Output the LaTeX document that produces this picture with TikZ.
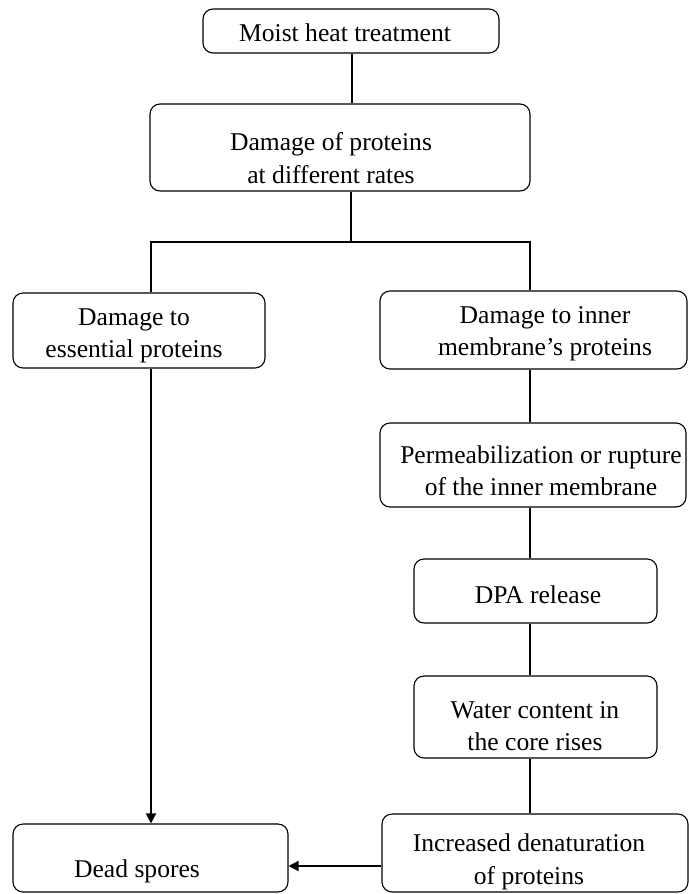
\documentclass[tikz,border=0pt]{standalone}
\usepackage{fontspec}
\setmainfont{Liberation Serif}
\usetikzlibrary{arrows.meta}
\begin{document}
\begin{tikzpicture}[x=0.5pt,y=-0.5pt,
  box/.style={draw, rounded corners=5pt, line width=0.55pt, inner sep=0pt},
  txt/.style={align=center, inner sep=0pt, font=\fontsize{12.8}{16.2}\selectfont},
  conn/.style={line width=0.8pt},
  arr/.style={line width=0.8pt, -{Triangle[length=5pt,width=5pt]}}]
\useasboundingbox (0,0) rectangle (689,894);
% boxes
\node[box, minimum width=148pt, minimum height=22pt] (n1) at (351,31) {};
\node[box, minimum width=190pt, minimum height=43.5pt] (n2) at (340,147.5) {};
\node[box, minimum width=126pt, minimum height=37.5pt] (n3) at (139,330.5) {};
\node[box, minimum width=153.5pt, minimum height=39pt] (n4) at (533.5,330) {};
\node[box, minimum width=153pt, minimum height=42pt] (n5) at (533,465) {};
\node[box, minimum width=121.5pt, minimum height=32pt] (n6) at (535.5,591) {};
\node[box, minimum width=121.5pt, minimum height=41pt] (n7) at (535.5,717) {};
\node[box, minimum width=153pt, minimum height=39pt] (n8) at (535,853) {};
\node[box, minimum width=137.5pt, minimum height=34pt] (n9) at (150.5,858) {};
% texts
\node[txt] (t1) at (345,33) {Moist heat treatment};
\node[txt] (t2) at (331,158) {Damage of proteins\\at different rates};
\node[txt] (t3) at (134,336) {Damage to\\essential proteins};
\node[txt] (t4) at (545,334) {Damage to inner\\membrane’s proteins};
\node[txt] (t5) at (541,471) {Permeabilization or rupture\\of the inner membrane};
\node[txt] (t6) at (538,595) {DPA release};
\node[txt] (t7) at (535,726) {Water content in\\the core rises};
\node[txt] (t8) at (529,862) {Increased denaturation\\of proteins};
\node[txt] (t9) at (137,871) {Dead spores};
% junction coordinates
\coordinate (jm) at (351,242);
\coordinate (jl) at (151,242);
\coordinate (jr) at (530,242);
\coordinate (top) at (352,0);
\coordinate (ya) at (0,866);
% connectors
\draw[conn] (n1.south -| top) -- (n2.north -| top);
\draw[conn] (n2.south -| jm) -- (jm);
\draw[conn] (jl |- n3.north) -- (jl) -- (jr) -- (jr |- n4.north);
\draw[arr] (jl |- n3.south) -- (jl |- n9.north);
\draw[conn] (n4.south -| jr) -- (n5.north -| jr);
\draw[conn] (n5.south -| jr) -- (n6.north -| jr);
\draw[conn] (n6.south -| jr) -- (n7.north -| jr);
\draw[conn] (n7.south -| jr) -- (n8.north -| jr);
\draw[arr] (n8.west |- ya) -- (n9.east |- ya);
\end{tikzpicture}
\end{document}
